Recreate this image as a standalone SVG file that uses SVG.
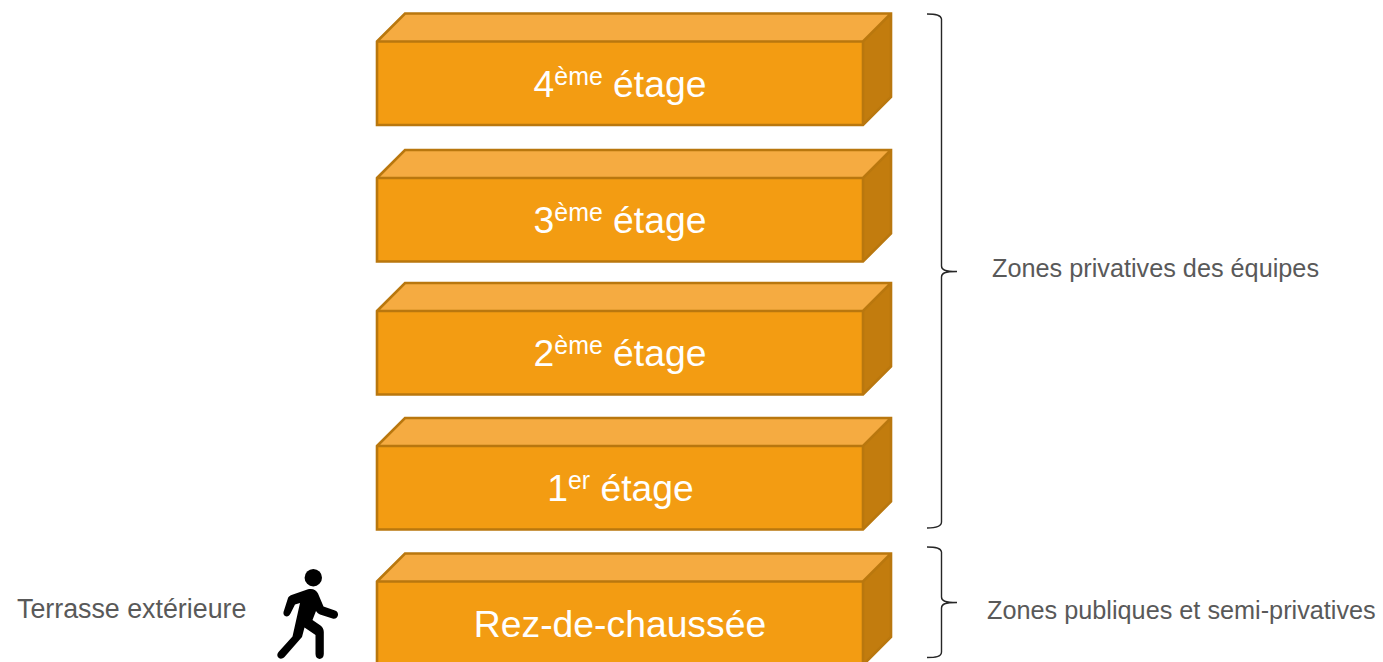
<svg xmlns="http://www.w3.org/2000/svg" width="1383" height="662" viewBox="0 0 1383 662">
<style>
text{font-family:"Liberation Sans",Arial,sans-serif}
.f{fill:#f39c12}.t{fill:#f5ab41}.s{fill:#c27c0e}
.o{fill:none;stroke:#b9770e;stroke-width:2.6;stroke-linejoin:miter}
.lab{font-size:37.3px;fill:#fff;text-anchor:middle}
.sup{font-size:24.9px}
.note{font-size:25.25px;fill:#595959}
.big{font-size:26.8px}
.br{fill:none;stroke:#262626;stroke-width:1.4}
</style>
<defs>
<g id="box">
<rect class="f" x="377" y="28" width="486" height="83.500"/>
<path class="t" d="M377 28L405 0H891L863 28Z"/>
<path class="s" d="M863 28L891 0V83.500L863 111.500Z"/>
<path class="o" d="M377 28L405 0H891V83.500L863 111.500H377ZM377 28H863L891 0M863 28V111.500"/>
</g>
</defs>
<g id="floor-4"><use href="#box" y="13.500"/><text class="lab" x="620" y="97">4<tspan class="sup" dy="-12">ème</tspan><tspan dy="12"> étage</tspan></text></g>
<g id="floor-3"><use href="#box" y="150"/><text class="lab" x="620" y="233">3<tspan class="sup" dy="-12">ème</tspan><tspan dy="12"> étage</tspan></text></g>
<g id="floor-2"><use href="#box" y="283"/><text class="lab" x="620" y="366">2<tspan class="sup" dy="-12">ème</tspan><tspan dy="12"> étage</tspan></text></g>
<g id="floor-1"><use href="#box" y="418"/><text class="lab" x="620.500" y="501">1<tspan class="sup" dy="-12">er</tspan><tspan dy="12"> étage</tspan></text></g>
<g id="ground"><use href="#box" y="553.500"/><text class="lab" x="620" y="637">Rez-de-chaussée</text></g>
<g id="connectors">
<path class="br" d="M927 14C935 14 941 14.500 941.500 19V266C941.500 270 945 271.500 957 271.500C945 271.500 941.500 273 941.500 277V522C941.500 527 935 528 927 528"/>
<path class="br" d="M927 547C935 547 941 547.500 941.500 552V597C941.500 601 945 602.500 957 602.500C945 602.500 941.500 604 941.500 608V652C941.500 657 935 657.500 927 657.500"/>
</g>
<g id="label-private"><text class="note" x="992" y="277">Zones privatives des équipes</text></g>
<g id="label-public"><text class="note" x="987" y="618.500">Zones publiques et semi-privatives</text></g>
<g id="label-terrace"><text class="note big" x="17" y="618">Terrasse extérieure</text></g>
<g id="walker">
<circle cx="313.300" cy="577.700" r="8.700" fill="#000"/>
<path fill="#000" d="M291.500 595L308 589.300C312.500 588 316.500 590 318 593.500L323.500 606.500L335 610.500C340.500 612.500 338 620 332.500 618.500L320 614.500C318 613.800 317 612.500 316 611L312.500 620L320.500 625.500C322.500 627 323.800 629 323.800 632V654C323.800 660.500 315.500 660.500 315.500 654V635L304.500 627.500L302 637L284.500 657C280 661.500 275 656 278.500 652L292.500 636.500L300 603L295 604.500L290.500 613.500C288 619 281.500 616 284 610.500L288 598C288.600 596.500 290 595.500 291.500 595Z"/>
</g>
</svg>
